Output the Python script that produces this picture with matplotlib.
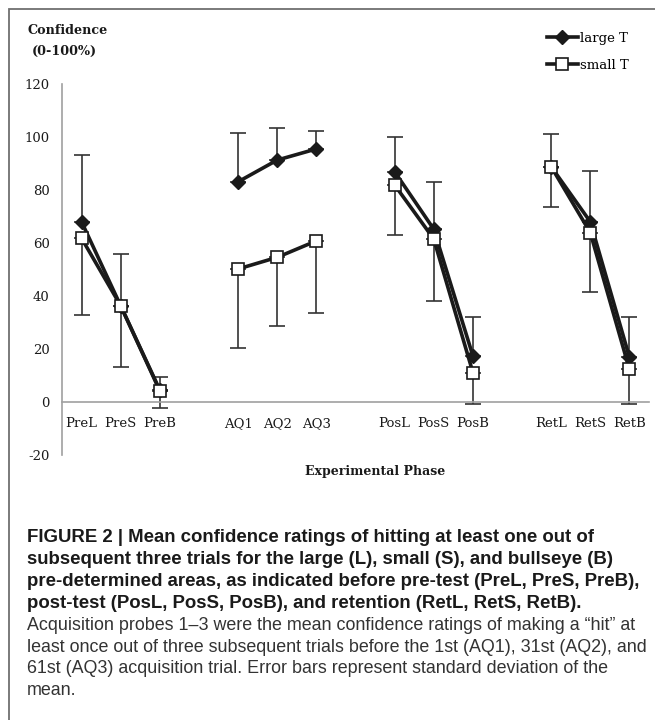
import numpy as np
import matplotlib
matplotlib.use("Agg")
import matplotlib.pyplot as plt
from matplotlib.patches import Rectangle

plt.rcParams['font.family'] = ['DejaVu Serif']

# data
cats = ['PreL', 'PreS', 'PreB', 'AQ1', 'AQ2', 'AQ3',
        'PosL', 'PosS', 'PosB', 'RetL', 'RetS', 'RetB']
large = [68.0, 36.3, 4.5, 83.1, 91.3, 95.5, 86.9, 65.2, 17.4, 88.8, 68.0, 16.9]
large_sd = [25.2, 19.5, 5.0, 18.3, 12.0, 6.9, 13.0, 17.9, 14.6, 12.3, 19.3, 15.1]
small = [61.8, 36.3, 4.2, 50.2, 54.6, 60.8, 81.9, 61.5, 11.1, 88.8, 63.9, 12.3]
small_sd = [29.0, 23.0, 6.6, 29.7, 25.9, 27.1, 18.9, 23.4, 11.9, 15.1, 22.3, 13.1]
yticks = [-20, 0, 20, 40, 60, 80, 100, 120]

W, H = 655, 720
fig = plt.figure(figsize=(W / 100, H / 100), dpi=100)

# grey frame around the figure panel (cut by right/bottom edges)
fig.patches.append(Rectangle((9 / W, -0.1), 1.2, 1 - 9 / H + 0.1, transform=fig.transFigure,
                             fill=False, edgecolor='#6f6f6f', lw=1.3))

ax = fig.add_axes([62 / W, 1 - 455 / H, (649 - 62) / W, (455 - 84) / H])

x = np.array([i + i // 3 for i in range(len(cats))])
large = np.array(large); small = np.array(small)

for g in range(4):
    s = slice(3 * g, 3 * g + 3)
    # large T: upper error bars only, small T: lower ones only
    ax.errorbar(x[s], large[s], yerr=[np.zeros(3), np.array(large_sd[s])], fmt='none',
                ecolor='#333333', elinewidth=1.2, capsize=5.5, capthick=1.2, zorder=1)
    ax.errorbar(x[s], small[s], yerr=[np.array(small_sd[s]), np.zeros(3)], fmt='none',
                ecolor='#333333', elinewidth=1.2, capsize=5.5, capthick=1.2, zorder=1)
    ax.plot(x[s], large[s], color='#1a1a1a', lw=2.6, marker='D', ms=7.5,
            mfc='#1a1a1a', mec='#1a1a1a', zorder=3, label='large T' if g == 0 else None)
    ax.plot(x[s], small[s], color='#1a1a1a', lw=2.6, marker='s', ms=9,
            mfc='white', mec='#1a1a1a', mew=1.2, zorder=4, label='small T' if g == 0 else None)

ax.set_xlim(-0.5, 14.5)
ax.set_ylim(-20, 120)
ax.set_xticks(x)
ax.set_xticklabels(cats)
ax.set_yticks(yticks)
ax.set_yticklabels([str(v) for v in yticks])
ax.tick_params(length=0, labelsize=9.5, labelcolor='#1a1a1a')
ax.tick_params(axis='y', pad=9)
ax.tick_params(axis='x', pad=11)
for sp in ['top', 'right']:
    ax.spines[sp].set_visible(False)
ax.spines['bottom'].set_position(('data', 0))
ax.spines['bottom'].set_color('#a0a0a0')
ax.spines['left'].set_color('#a0a0a0')
ax.spines['bottom'].set_linewidth(1.2)
ax.spines['left'].set_linewidth(1.2)
ax.patch.set_alpha(0)

leg = ax.legend(loc='upper left', bbox_to_anchor=(540 / W, 1 - 25 / H), bbox_transform=fig.transFigure,
                frameon=False, handlelength=2.4, handletextpad=0.1, borderpad=0, labelspacing=1.1,
                prop={'size': 9.5})

fig.text(27 / W, 1 - 31 / H, 'Confidence', weight='bold',
         fontsize=9.2, va='center', ha='left', color='#1a1a1a')
fig.text(32 / W, 1 - 51 / H, '(0-100%)', weight='bold',
         fontsize=9.2, va='center', ha='left', color='#1a1a1a')
fig.text(375 / W, 1 - 472 / H, 'Experimental Phase', weight='bold',
         fontsize=9, va='center', ha='center', color='#1a1a1a')

bold_lines = ['FIGURE 2 | Mean confidence ratings of hitting at least one out of',
              'subsequent three trials for the large (L), small (S), and bullseye (B)',
              'pre-determined areas, as indicated before pre-test (PreL, PreS, PreB),',
              'post-test (PosL, PosS, PosB), and retention (RetL, RetS, RetB).']
plain_lines = ['Acquisition probes 1\u20133 were the mean confidence ratings of making a \u201chit\u201d at',
               'least once out of three subsequent trials before the 1st (AQ1), 31st (AQ2), and',
               '61st (AQ3) acquisition trial. Error bars represent standard deviation of the',
               'mean.']
y0 = 538
for i, t in enumerate(bold_lines + plain_lines):
    bold = i < len(bold_lines)
    fig.text(27 / W, 1 - (y0 + 21.8 * i) / H, t, family='Liberation Sans',
             weight='bold' if bold else 'normal', fontsize=13.4 if bold else 12.9,
             color='#1a1a1a' if bold else '#333333', va='center', ha='left')

fig.savefig('out.png', dpi=100)
